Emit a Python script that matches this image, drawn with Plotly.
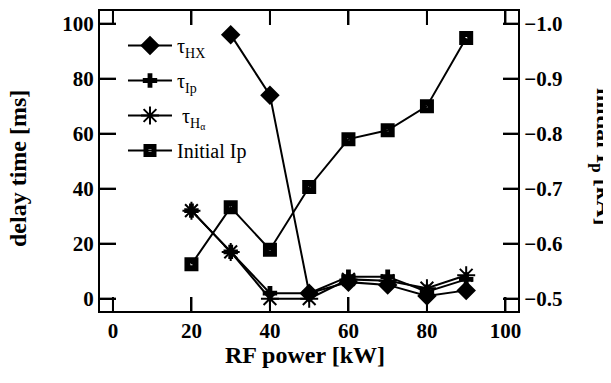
import plotly.graph_objects as go

rf_power = [20, 30, 40, 50, 60, 70, 80, 90]
tau_hx_x = [30, 40, 50, 60, 70, 80, 90]
tau_hx = [96, 74, 2, 6, 5, 1, 3]
tau_ip = [32, 17, 2, 2, 8, 8, 2.5, 7]
tau_ha = [32, 17, 0, 0, 7, 6.5, 3.8, 8.5]
initial_ip = [-0.5625, -0.666, -0.589, -0.703, -0.790, -0.806, -0.850, -0.974]

x_ticks = [0, 20, 40, 60, 80, 100]
y_ticks = [0, 20, 40, 60, 80, 100]
y2_ticks = [-1.0, -0.9, -0.8, -0.7, -0.6, -0.5]

serif = "Liberation Serif"
line = dict(color="black", width=2)

# the page body has an 8px margin, so the figure is drawn 8px right and down
OFF = 8
W, H = 611 - OFF, 383 - OFF
plot_l, plot_r, plot_t, plot_b = 100 - OFF, 518 - OFF, 11 - OFF, 311 - OFF
PW, PH = plot_r - plot_l, plot_b - plot_t

X_RANGE = [-3.3, 103.2]
Y_RANGE = [-4.5, 104.6]
Y2_RANGE = [-0.4775, -1.023]

fig = go.Figure()
fig.add_trace(go.Scatter(x=tau_hx_x, y=tau_hx, mode="lines+markers", name="τ<sub>HX</sub>",
                         line=line, marker=dict(symbol="diamond", size=15, color="black")))
fig.add_trace(go.Scatter(x=rf_power, y=tau_ip, mode="lines+markers", name="τ<sub>Ip</sub>",
                         line=line, marker=dict(symbol="cross", size=12, color="black",
                                                line=dict(width=0))))
fig.add_trace(go.Scatter(x=rf_power, y=tau_ha, mode="lines+markers", name=" τ<sub>H<sub>α</sub></sub>",
                         line=line, marker=dict(symbol="asterisk-open", size=15, color="black",
                                                line=dict(width=2, color="black"))))
fig.add_trace(go.Scatter(x=rf_power, y=initial_ip, mode="lines+markers", name="Initial Ip", yaxis="y2",
                         line=line, marker=dict(symbol="square-open", size=8, color="black",
                                                line=dict(width=6, color="black"))))
for i, tr in enumerate(fig.data):
    tr.legendgroup = f"g{i}"

# inside tick marks, drawn as line traces (tick lengths in pixels converted to axis units)
xu = (X_RANGE[1] - X_RANGE[0]) / PW
yu = (Y_RANGE[1] - Y_RANGE[0]) / PH
y2u = (Y2_RANGE[1] - Y2_RANGE[0]) / PH
tx, ty = [], []
for v in x_ticks:
    tx += [v, v, None, v, v, None]
    ty += [Y_RANGE[0], Y_RANGE[0] + 14 * yu, None, Y_RANGE[1], Y_RANGE[1] - 14 * yu, None]
for v in y_ticks:
    tx += [X_RANGE[0], X_RANGE[0] + 16 * xu, None]
    ty += [v, v, None]
fig.add_trace(go.Scatter(x=tx, y=ty, mode="lines", line=dict(color="black", width=2),
                         showlegend=False, hoverinfo="skip", cliponaxis=False))
t2x, t2y = [], []
for v in y2_ticks:
    t2x += [X_RANGE[1], X_RANGE[1] - 15 * xu, None]
    t2y += [v, v, None]
fig.add_trace(go.Scatter(x=t2x, y=t2y, yaxis="y2", mode="lines", line=dict(color="black", width=2),
                         showlegend=False, hoverinfo="skip", cliponaxis=False))

axis_common = dict(showgrid=False, zeroline=False, showline=True, linecolor="black", linewidth=2,
                   ticks="inside", tickcolor="black", tickwidth=2,
                   tickfont=dict(family=serif, size=21, color="black", weight="bold"))


def ann(text, px, py, angle=0):
    return dict(text=text, xref="paper", yref="paper",
                x=(px - OFF - plot_l) / PW,
                y=(plot_b - (py - OFF)) / PH,
                xanchor="center", yanchor="middle", textangle=angle, showarrow=False,
                font=dict(family=serif, size=24, color="black", weight="bold"))


fig.update_layout(
    width=W, height=H,
    margin=dict(l=plot_l, r=W - plot_r, t=plot_t, b=H - plot_b, autoexpand=False),
    paper_bgcolor="white", plot_bgcolor="white",
    showlegend=True,
    legend=dict(x=0.055, y=0.95, xanchor="left", yanchor="top", bgcolor="rgba(0,0,0,0)",
                font=dict(family=serif, size=20, color="black"), itemwidth=44,
                tracegroupgap=6),
    xaxis=dict(range=X_RANGE, tickvals=x_ticks, ticklen=14, mirror="ticks", **axis_common),
    yaxis=dict(range=Y_RANGE, tickvals=y_ticks, ticklen=16, mirror=False, **axis_common),
    yaxis2=dict(range=Y2_RANGE, tickvals=y2_ticks, tickformat=".1f", ticklen=15,
                overlaying="y", side="right", **axis_common),
    annotations=[
        ann("RF power [kW]", 305, 355),
        ann("delay time [ms]", 18, 169, -90),
        ann("initial I<sub>p</sub> [kA]", 603, 156, 90),
    ],
)

fig.write_html("out.html")
